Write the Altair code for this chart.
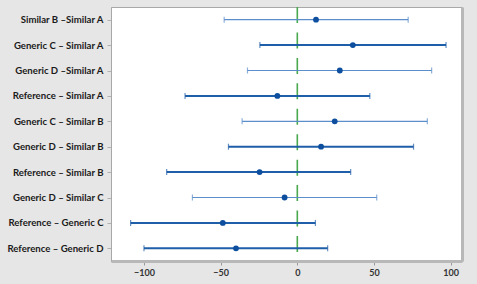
import altair as alt
import pandas as pd

comparisons = [
    "Similar B –Similar A",
    "Generic C – Similar A",
    "Generic D –Similar A",
    "Reference – Similar A",
    "Generic C – Similar B",
    "Generic D – Similar B",
    "Reference – Similar B",
    "Generic D – Similar C",
    "Reference – Generic C",
    "Reference – Generic D",
]
estimate = [12.2, 36.2, 27.7, -13.0, 24.4, 15.5, -24.6, -8.3, -48.6, -40.0]
lower = [-47.7, -24.4, -32.5, -73.2, -36.0, -44.9, -85.2, -68.4, -108.7, -100.0]
upper = [72.3, 97.0, 87.6, 47.3, 84.8, 75.8, 34.8, 51.8, 11.8, 19.8]
style = ["thin", "thick", "thin", "thick", "thin", "thick", "thick", "thin", "thick", "thick"]
x_ticks = [-100, -50, 0, 50, 100]
zero = [0]

df = pd.DataFrame({
    "comp": comparisons,
    "est": estimate,
    "lo": lower,
    "hi": upper,
    "style": style,
})
zdf = pd.DataFrame({"z": zero})

xscale = alt.Scale(domain=[-121.5, 107.4], nice=False, zero=False)
yscale = alt.Scale(domain=comparisons, type="point", padding=0.5)

x_axis = alt.Axis(values=x_ticks, grid=False, title=None, labelFont="Lato",
                  labelFontSize=9, labelFontWeight="bold", labelColor="#333333",
                  tickColor="#9a9a9a", tickSize=4, domainColor="#b8b8b8",
                  domainWidth=3, labelPadding=3)
y_axis = alt.Axis(title=None, grid=False, labelFont="Lato", labelFontSize=9.6,
                  labelFontWeight="bold", labelColor="#1a1a1a", tickColor="#b0b0b0",
                  tickSize=4, domainColor="#a8a8a8", domainWidth=1, labelPadding=4)
right_axis = alt.Axis(orient="right", labels=False, ticks=False, title=None,
                      domainColor="#b8b8b8", domainWidth=3, grid=False)

base = alt.Chart(df)

colors = alt.Scale(domain=["thin", "thick"], range=["#5b8ecb", "#1f5ea8"])
widths = alt.Scale(domain=["thin", "thick"], range=[1.2, 2.0])

zero_line = alt.Chart(zdf).mark_rule(color="#4aa84f", strokeWidth=1.6,
                                     strokeDash=[16, 9.44]).encode(
    x=alt.X("z:Q", scale=xscale, axis=x_axis),
)

rules = base.mark_rule().encode(
    x=alt.X("lo:Q", scale=xscale, axis=x_axis),
    x2="hi:Q",
    y=alt.Y("comp:N", scale=yscale, axis=y_axis, sort=comparisons),
    color=alt.Color("style:N", scale=colors, legend=None),
    strokeWidth=alt.StrokeWidth("style:N", scale=widths, legend=None),
)

tick_lo = base.mark_tick(orient="vertical", size=6, thickness=1.2).encode(
    x=alt.X("lo:Q", scale=xscale, axis=x_axis),
    y=alt.Y("comp:N", scale=yscale, sort=comparisons, axis=None),
    color=alt.Color("style:N", scale=colors, legend=None),
)
tick_hi = base.mark_tick(orient="vertical", size=6, thickness=1.2).encode(
    x=alt.X("hi:Q", scale=xscale, axis=x_axis),
    y=alt.Y("comp:N", scale=yscale, sort=comparisons, axis=None),
    color=alt.Color("style:N", scale=colors, legend=None),
)

points = base.mark_circle(size=34, opacity=1, color="#0d4f9e").encode(
    x=alt.X("est:Q", scale=xscale, axis=x_axis),
    y=alt.Y("comp:N", scale=yscale, sort=comparisons, axis=right_axis),
)

chart = alt.layer(zero_line, rules, tick_lo, tick_hi, points).resolve_axis(
    y="independent"
).properties(
    width=351,
    height=254,
    background="#e6e6e6",
    padding={"left": 111, "top": 7, "right": 15, "bottom": 23},
    autosize=alt.AutoSizeParams(type="none"),
).configure_view(
    fill="white", stroke="#a8a8a8", strokeWidth=1
)

chart.save("out.html", embed_options={"renderer": "svg", "actions": False})
